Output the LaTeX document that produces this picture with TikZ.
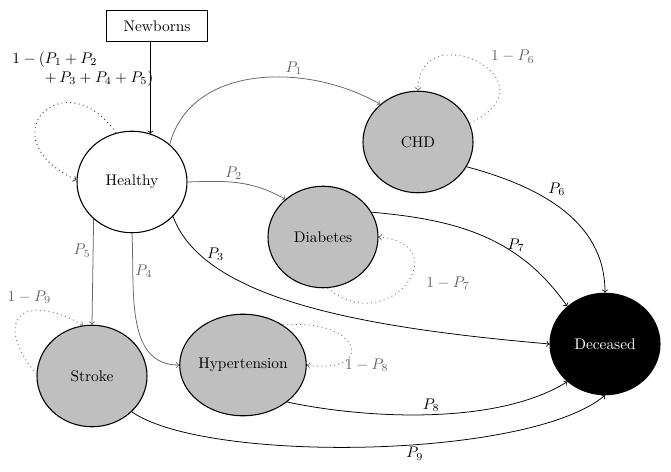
\documentclass[tikz,border=0pt]{standalone}
\usetikzlibrary{shapes.geometric}
\begin{document}
\begin{tikzpicture}[x=0.65pt, y=0.65pt,
                    state/.style={draw, ellipse, line width=0.7pt, minimum width=71.5pt, minimum height=66pt, inner sep=0pt, fill=black!25},
                    rect/.style={draw, rectangle, line width=0.6pt, minimum width=66pt, minimum height=20pt},
                    arrow/.style={draw, ->, line width=0.5pt},
                    garrow/.style={arrow, draw=black!60},
                    selfloop/.style={draw=black!55, ->, line width=0.6pt, dash pattern=on 0.6pt off 2.2pt},
                    glabel/.style={text=black!60, inner sep=1.5pt},
                    blabel/.style={inner sep=1.5pt}]
  \useasboundingbox (0,0) rectangle (671,472);
  % states
  \node (newborns)[rect] at (157,446) {Newborns};
  \node (healthy)[state, fill=white] at (132,290) {Healthy};
  \node (chd)[state] at (418,330) {CHD};
  \node (diabetes)[state] at (323,235) {Diabetes};
  \node (stroke)[state] at (92,96) {Stroke};
  \node (hyper)[state] at (243,107) {Hypertension};
  \node (deceased)[state, fill=black, text=white] at (605,128) {Deceased};
  \node (stay_lbl)[anchor=west, align=left] at (7,403) {$1-(P_1+P_2$\\\phantom{$1-($}$+\,P_3+P_4+P_5)$};
  % entry
  \draw[arrow] (healthy.69 |- newborns.south) -- (healthy.69);
  % self loops
  \draw[selfloop, draw=black!80] (healthy.108) .. controls +(125:90) and +(155:100) .. (healthy.178);
  \draw[selfloop] (chd.20) .. controls +(25:100) and +(90:78) .. node[glabel, above right, pos=0.42, yshift=2pt](stay_chd){$1-P_6$} (chd.north);
  \draw[selfloop] (diabetes.-85) .. controls +(-40:80) and +(-5:80) .. node[glabel, anchor=west, pos=0.55, xshift=9pt, yshift=-3pt](stay_dia){$1-P_7$} (diabetes.east);
  \draw[selfloop] (hyper.45) .. controls +(5:80) and +(-8:70) .. node[glabel, below right, pos=0.55, xshift=-6pt, yshift=-4pt](stay_hyp){$1-P_8$} (hyper.east);
  \draw[selfloop] (stroke.178) .. controls +(130:70) and +(150:70) .. node[glabel, above, pos=0.62, yshift=3pt](stay_str){$1-P_9$} (stroke.100);
  % transitions from healthy
  \draw[garrow] (healthy.45) to[out=75, in=150] node[glabel, above, pos=0.65](p_one){$P_1$} (chd.135);
  \draw[garrow] (healthy.east) to[out=2, in=150] node[glabel, above, pos=0.45](p_two){$P_2$} (diabetes.135);
  \draw[arrow] (healthy.-40) .. controls +(-70:90) and +(175:180) .. node[blabel, above right, pos=0.2, inner sep=0pt](p_three){$P_3$} (deceased.west);
  \draw[garrow] (healthy.south) to[out=-87, in=180] node[glabel, right, pos=0.22](p_four){$P_4$} (hyper.west);
  \draw[garrow] (healthy.-136) -- node[glabel, left, pos=0.3](p_five){$P_5$} (stroke.north);
  % transitions to deceased
  \draw[arrow] (chd.-27) to[out=-15, in=90] node[blabel, above right, pos=0.4](p_six){$P_6$} (deceased.north);
  \draw[arrow] (diabetes.27) to[out=-5, in=125] node[blabel, above, pos=0.68](p_seven){$P_7$} (deceased.135);
  \draw[arrow] (hyper.-40) to[out=-12, in=-148, looseness=0.75] node[blabel, above, pos=0.5](p_eight){$P_8$} (deceased.-135);
  \draw[arrow] (stroke.-42) .. controls +(-35:90) and +(-140:100) .. node[blabel, below, pos=0.58](p_nine){$P_9$} (deceased.south);
\end{tikzpicture}
\end{document}
